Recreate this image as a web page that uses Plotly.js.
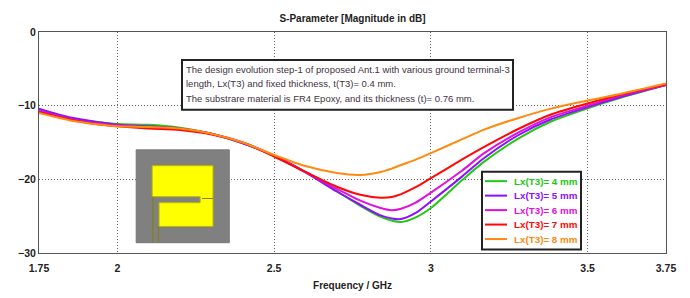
<!DOCTYPE html>
<html><head><meta charset="utf-8">
<script src="https://cdn.plot.ly/plotly-3.0.1.min.js"></script>
<style>html,body{margin:0;padding:0;background:#fff}</style></head>
<body><div id="chart" style="width:690px;height:298px"></div>
<script>
const freq = [1.75, 1.85, 1.95, 2.0, 2.1, 2.2, 2.3, 2.4, 2.5, 2.6, 2.7, 2.775, 2.84, 2.875, 2.905, 2.95, 3.0, 3.1, 3.17, 3.277, 3.383, 3.5, 3.6, 3.75];
const lx4 = [-10.5,-11.7,-12.3,-12.5,-12.6,-13.0,-13.8,-15.1,-16.8,-19.0,-21.6,-23.6,-25.1,-25.6,-25.8,-25.2,-23.9,-20.1,-17.6,-14.5,-12.15,-10.35,-9.0,-7.2];
const lx5 = [-10.4,-11.6,-12.3,-12.6,-12.8,-13.1,-13.8,-15.1,-16.8,-19.05,-21.65,-23.45,-24.9,-25.3,-25.4,-24.6,-23.0,-19.6,-17.1,-14.05,-11.85,-10.2,-8.9,-7.2];
const lx6 = [-10.7,-11.8,-12.5,-12.7,-12.9,-13.2,-13.8,-15.0,-16.8,-19.0,-21.3,-22.9,-23.9,-24.2,-24.0,-23.2,-21.8,-18.8,-16.45,-13.7,-11.55,-10.0,-8.7,-7.2];
const lx7 = [-10.9,-11.9,-12.6,-12.8,-13.1,-13.3,-13.9,-15.0,-16.9,-19.0,-21.0,-22.1,-22.5,-22.4,-22.0,-21.1,-19.85,-17.3,-15.6,-13.2,-11.2,-9.7,-8.55,-7.1];
const lx8 = [-11.0,-12.0,-12.6,-12.8,-12.9,-13.1,-13.8,-15.0,-16.7,-18.2,-19.15,-19.4,-19.0,-18.55,-18.05,-17.35,-16.45,-14.55,-13.25,-11.7,-10.4,-9.3,-8.45,-7.0];
const seriesNames = ["Lx(T3)= 4 mm","Lx(T3)= 5 mm","Lx(T3)= 6 mm","Lx(T3)= 7 mm","Lx(T3)= 8 mm"];
const seriesColors = ["#22c911","#8a10ff","#e010e0","#ff0808","#ff8a10"];
const seriesValues = [lx4,lx5,lx6,lx7,lx8];
const xTicks = [1.75,2,2.5,3,3.5,3.75];
const xTickText = ["1.75","2","2.5","3","3.5","3.75"];
const yTicks = [0,-10,-20,-30];
const noteLines = ["The design evolution step-1 of proposed Ant.1 with various ground terminal-3","length, Lx(T3) and fixed thickness, t(T3)= 0.4 mm.","The substrare material is FR4 Epoxy, and its thickness (t)= 0.76 mm."];
const labelFont = "'Liberation Sans', Arial, sans-serif";

const L=39,T=32,W=627,H=221.5;
const px=v=>(v-L)/W, py=v=>1-(v-T)/H;

const traces = seriesValues.map((v,i)=>({
  x:freq,y:v,type:"scatter",mode:"lines",name:seriesNames[i],showlegend:false,
  line:{color:seriesColors[i],width:2,shape:"spline",smoothing:0.8}
}));
const sh=(d,f,c,w)=>({type:"path",xref:"x",yref:"y",path:d,fillcolor:f,line:{color:c,width:w},layer:"above"});
const boxShape=(x0,x1,y0,y1)=>({type:"rect",xref:"paper",yref:"paper",x0:px(x0),x1:px(x1),y0:py(y1),y1:py(y0),fillcolor:"#fff",line:{color:"#222",width:2},layer:"above"});

const noteAnn = noteLines.map((t,i)=>({xref:"paper",yref:"paper",x:px(185),xanchor:"left",y:py(69.5+14.5*i),yanchor:"middle",showarrow:false,align:"left",
  text:t,font:{family:"'Liberation Sans', Arial, sans-serif",size:9.5,color:"#443344"},borderpad:0}));
const legShapes = seriesNames.map((n,i)=>({type:"line",xref:"paper",yref:"paper",x0:px(485),x1:px(507),y0:py(181.5+14.5*i),y1:py(181.5+14.5*i),line:{color:seriesColors[i],width:2},layer:"above"}));
const legAnn = seriesNames.map((n,i)=>({xref:"paper",yref:"paper",x:px(513),xanchor:"left",y:py(181.5+14.5*i),yanchor:"middle",showarrow:false,
  text:"<b>"+n+"</b>",font:{family:labelFont,size:9.8,color:seriesColors[i]},borderpad:0}));

const layout={
  width:690,height:298,autosize:false,
  paper_bgcolor:"#fff",plot_bgcolor:"#fff",
  margin:{l:L,r:24,t:T,b:44.5,pad:0},
  title:{text:"<b>S-Parameter [Magnitude in dB]</b>",font:{family:labelFont,size:10,color:"#222"},x:0.5,xanchor:"center",xref:"paper",y:0.937,yanchor:"middle"},
  xaxis:{range:[1.75,3.75],tickmode:"array",tickvals:xTicks,ticktext:xTickText,ticks:"",ticklabelstandoff:5,showline:true,linecolor:"#555",linewidth:1,mirror:true,
    showgrid:true,gridcolor:"#666",griddash:"1px,2px",gridwidth:1,zeroline:false,
    tickfont:{family:labelFont,size:10.5,color:"#222",weight:"bold"},
    title:{text:"<b>Frequency / GHz</b>",font:{family:labelFont,size:10,color:"#222"},standoff:9}},
  yaxis:{range:[-30,0],tickmode:"array",tickvals:yTicks,ticks:"",showline:true,linecolor:"#555",linewidth:1,mirror:true,
    showgrid:true,gridcolor:"#666",griddash:"1px,2px",gridwidth:1,zeroline:false,
    tickfont:{family:labelFont,size:10.5,color:"#222",weight:"bold"}},
  showlegend:false,
  shapes:[
    {type:"rect",xref:"x",yref:"y",x0:2.06,x1:2.357,y0:-28.6,y1:-16,fillcolor:"#808080",line:{color:"#777",width:1},layer:"above"},
    sh("M2.111,-18.15 L2.305,-18.15 L2.305,-26.4 L2.133,-26.4 L2.133,-23.17 L2.264,-23.17 L2.264,-22.35 L2.111,-22.35 Z","#ffff00","#b8b800",1),
    sh("M2.27,-22.6 L2.305,-22.6","rgba(0,0,0,0)","#80802a",1),
    sh("M2.113,-22.35 L2.113,-28.6","rgba(0,0,0,0)","#80802a",1.5),
    sh("M2.131,-26.4 L2.131,-28.6","rgba(0,0,0,0)","#80802a",1.5),
    boxShape(182,513,60,110),
    boxShape(482,581,172,250),
    ...legShapes
  ],
  annotations:[...noteAnn,...legAnn]
};
Plotly.newPlot("chart",traces,layout,{displayModeBar:false,staticPlot:true});
</script></body></html>
